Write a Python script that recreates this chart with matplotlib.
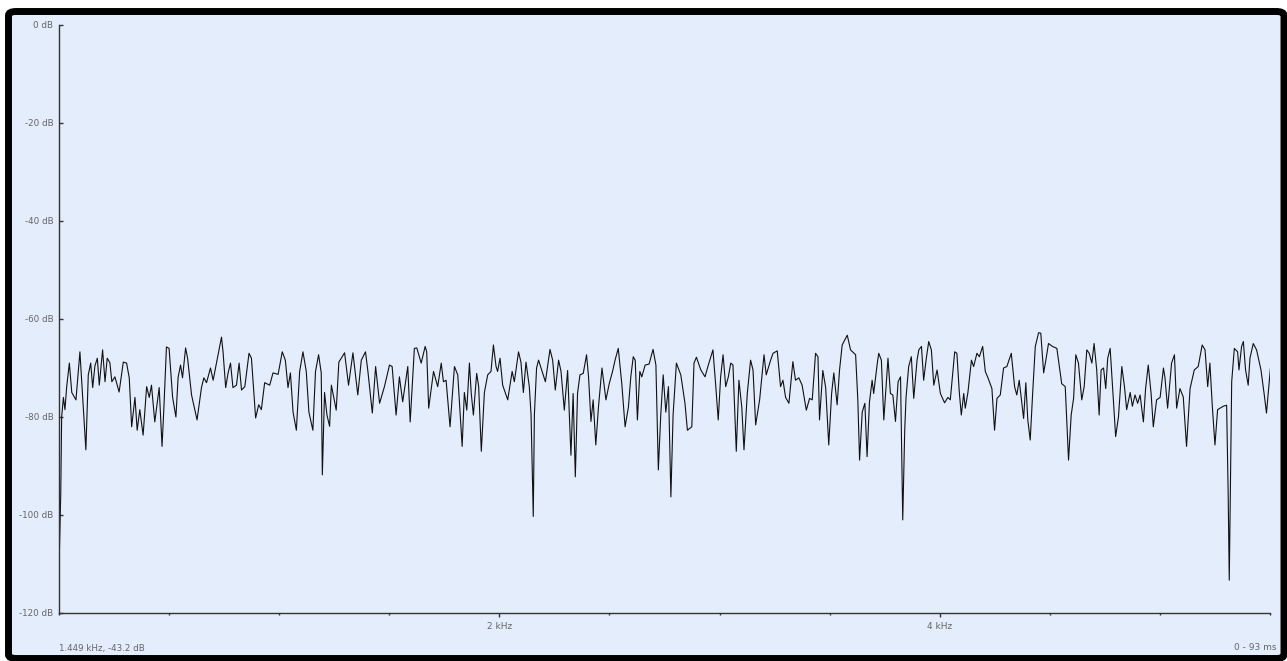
import numpy as np
import matplotlib
matplotlib.use("Agg")
import matplotlib.pyplot as plt
from matplotlib.patches import FancyBboxPatch
from matplotlib.ticker import FixedLocator, MultipleLocator, FuncFormatter

# spectrum: frequency (Hz) and level (dB)
freq_hz = [
    0, 8, 12, 20, 27, 35, 47, 58, 77, 95,
    110, 122, 133, 144, 153, 163, 174, 183, 198, 209,
    219, 231, 240, 254, 273, 292, 307, 319, 330, 345,
    355, 367, 382, 398, 410, 420, 435, 455, 468, 476,
    488, 500, 516, 531, 541, 552, 561, 575, 584, 602,
    627, 647, 658, 670, 688, 700, 715, 738, 745, 757,
    768, 779, 790, 806, 818, 829, 844, 863, 874, 893,
    907, 919, 934, 957, 972, 995, 1014, 1028, 1040, 1051,
    1063, 1078, 1093, 1108, 1123, 1135, 1153, 1165, 1179, 1191,
    1196, 1206, 1217, 1229, 1237, 1259, 1271, 1297, 1315, 1335,
    1357, 1373, 1392, 1403, 1423, 1438, 1456, 1478, 1501, 1513,
    1531, 1546, 1561, 1584, 1595, 1614, 1625, 1645, 1663, 1670,
    1679, 1701, 1720, 1736, 1746, 1758, 1776, 1796, 1811, 1831,
    1841, 1852, 1864, 1872, 1882, 1897, 1906, 1918, 1932, 1947,
    1962, 1973, 1985, 1992, 2003, 2015, 2038, 2058, 2068, 2087,
    2098, 2109, 2121, 2136, 2144, 2154, 2159, 2169, 2178, 2209,
    2230, 2242, 2254, 2269, 2280, 2295, 2310, 2325, 2335, 2345,
    2355, 2366, 2381, 2396, 2405, 2416, 2426, 2438, 2450, 2466,
    2484, 2499, 2514, 2526, 2540, 2556, 2571, 2586, 2597, 2608,
    2617, 2627, 2638, 2647, 2662, 2680, 2698, 2711, 2722, 2733,
    2744, 2756, 2768, 2779, 2789, 2804, 2824, 2843, 2854, 2874,
    2884, 2895, 2915, 2934, 2949, 2970, 2983, 2994, 3005, 3016,
    3028, 3040, 3051, 3061, 3076, 3088, 3101, 3111, 3126, 3141,
    3152, 3164, 3182, 3202, 3212, 3232, 3243, 3262, 3277, 3288,
    3300, 3315, 3333, 3345, 3360, 3375, 3394, 3409, 3421, 3436,
    3447, 3454, 3469, 3482, 3496, 3509, 3519, 3534, 3545, 3557,
    3580, 3595, 3618, 3628, 3636, 3648, 3660, 3670, 3681, 3693,
    3700, 3716, 3723, 3735, 3746, 3765, 3776, 3787, 3799, 3811,
    3822, 3832, 3841, 3847, 3859, 3871, 3882, 3897, 3905, 3917,
    3927, 3938, 3950, 3962, 3973, 3988, 4003, 4022, 4037, 4048,
    4068, 4078, 4089, 4098, 4109, 4116, 4128, 4144, 4154, 4169,
    4180, 4195, 4207, 4219, 4237, 4249, 4260, 4275, 4290, 4305,
    4325, 4340, 4350, 4361, 4381, 4391, 4400, 4411, 4422, 4434,
    4449, 4459, 4472, 4482, 4494, 4512, 4532, 4554, 4570, 4585,
    4597, 4608, 4618, 4630, 4645, 4656, 4668, 4679, 4691, 4701,
    4713, 4724, 4733, 4744, 4754, 4763, 4774, 4784, 4799, 4812,
    4827, 4839, 4849, 4865, 4875, 4887, 4899, 4910, 4925, 4935,
    4947, 4960, 4970, 4985, 5001, 5016, 5023, 5035, 5053, 5066,
    5076, 5091, 5106, 5121, 5137, 5156, 5174, 5192, 5205, 5217,
    5227, 5238, 5250, 5262, 5288, 5303, 5310, 5315, 5320, 5326,
    5338, 5353, 5359, 5371, 5379, 5389, 5401, 5409, 5424, 5439,
    5459, 5474, 5484, 5492, 5502,
]

level_db = [
    -111, -95.5, -80, -76, -78.5, -73.8, -69, -75, -76.5, -66.7,
    -78, -86.7, -71.4, -69, -74, -69.6, -68, -73.5, -66.3, -72.8,
    -68, -68.9, -72.8, -71.8, -74.9, -68.8, -69, -72, -82, -76,
    -82.7, -78.5, -83.7, -73.8, -76, -73.5, -81, -74, -86, -78.5,
    -65.7, -66, -76, -80, -71.9, -69.4, -72, -65.9, -68, -75.5,
    -80.6, -74, -72, -73, -70, -72.5, -69, -63.7, -66.7, -74,
    -71, -69, -74, -73.5, -69, -74.5, -73.8, -67, -68, -80.2,
    -77.5, -78.5, -73, -73.5, -71, -71.3, -66.7, -68.4, -74, -71,
    -79, -82.7, -70.7, -66.7, -70.7, -79, -82.7, -70.7, -67.3, -71,
    -91.8, -75, -79.6, -81.9, -73.5, -78.6, -68.8, -66.9, -73.5, -66.9,
    -75.5, -68.4, -66.7, -70.7, -79.2, -69.7, -77.2, -73.8, -69.4, -69.7,
    -79.6, -71.8, -76.9, -69.7, -81, -66, -65.9, -69, -65.6, -66.7,
    -78.2, -70.7, -73.8, -69, -72.8, -72.5, -82, -69.7, -71.4, -86,
    -75, -78.6, -69, -75, -79.6, -71.1, -73.8, -87, -75, -71.4,
    -70.7, -65.3, -69.7, -70.7, -68, -73.5, -76.5, -70.7, -72.8, -66.7,
    -68.8, -75, -68.8, -73.8, -79.6, -100.3, -79.6, -70, -68.4, -72.8,
    -66.2, -68.4, -74.5, -68.4, -70.7, -78.6, -70.5, -87.8, -75.2, -92.2,
    -75.2, -71.4, -71.1, -67.3, -71.8, -80.9, -76.5, -85.7, -78, -70,
    -76.5, -73.2, -70.7, -68.3, -66, -73.2, -82, -78, -71.8, -67.7,
    -68.4, -80.6, -70.7, -71.8, -69.4, -69.2, -66.2, -69.4, -90.8, -79.6,
    -71.4, -79, -73.8, -96.3, -79.6, -69, -71.4, -77.2, -82.7, -82,
    -69, -67.8, -70.4, -71.8, -69.4, -66.3, -73.8, -80.6, -71.8, -67.3,
    -73.8, -71.8, -69, -69.4, -87, -72.5, -78, -86.7, -75.2, -68.4,
    -70.4, -81.6, -76.5, -67.3, -71.4, -68.4, -67, -66.5, -73.8, -72.5,
    -76, -77.2, -68.7, -72.5, -72, -73.5, -78.6, -76.2, -76.5, -67,
    -67.7, -80.6, -70.5, -74, -85.7, -75.2, -71, -77.5, -70.4, -65.3,
    -63.3, -66.3, -67.3, -76.5, -88.8, -79, -77.2, -88.1, -76.9, -72.5,
    -75.2, -69.2, -67, -68.4, -80.6, -68, -75.2, -75.5, -80.9, -72.8,
    -71.8, -101, -82.7, -76, -69.7, -67.7, -76.2, -68.4, -66.3, -65.6,
    -72.5, -68.4, -64.6, -66.3, -73.5, -70.4, -75.2, -77.1, -76, -76.5,
    -66.7, -67, -75, -79.6, -75.2, -78.2, -75, -68.4, -69.7, -67,
    -67.7, -65.6, -70.7, -72, -74.2, -82.7, -76.2, -75.5, -70, -69.7,
    -67, -73.8, -75.5, -72.5, -80.3, -73, -80.6, -84.7, -75.2, -65.6,
    -62.8, -62.9, -71, -68.4, -65, -65.6, -66, -73.2, -73.8, -88.8,
    -79.6, -76.2, -67.3, -69, -76.5, -73.8, -66.3, -67, -69, -65,
    -70.4, -79.6, -70.4, -70, -74.2, -68, -66, -73.2, -84, -79.9,
    -69.7, -73.8, -78.5, -75, -77.8, -75.5, -77.2, -75.5, -81, -74.2,
    -69.4, -75.2, -82, -76.5, -76, -70, -72, -78.2, -69, -67.3,
    -78.2, -74.2, -75.9, -86, -74.2, -70.4, -69.7, -65.3, -66.3, -73.8,
    -69, -77.8, -85.7, -78.5, -77.8, -77.6, -95.6, -113.3, -95.6, -72.8,
    -66, -66.7, -70.4, -65.6, -64.6, -70.4, -73.5, -68, -65, -66.3,
    -70.4, -75.5, -79.2, -75.2, -70,
]

db_ticks = [0, -20, -40, -60, -80, -100, -120]
khz_ticks = [2000, 4000]
cursor_text = "1.449 kHz, -43.2 dB"
window_text = "0 - 93 ms"

W, H = 1287, 661
bg = "#e3edfc"
label_col = "#666666"

fig = plt.figure(figsize=(W / 100, H / 100), dpi=100)
fig.patch.set_facecolor("white")

# black rounded frame round the whole panel, kept behind the axes
frame = FancyBboxPatch((8.5 / W, 2.5 / H), (1284 - 8.5) / W, (649.5 - 2.5) / H,
                       boxstyle="round,pad=0,rounding_size=0.006",
                       transform=fig.transFigure, facecolor=bg,
                       edgecolor="black", linewidth=5.0, zorder=-10)
fig.patches.append(frame)

ax = fig.add_axes([59 / W, (H - 613) / H, (1270 - 59) / W, 588 / H])
ax.set_zorder(5)
ax.set_facecolor("none")
ax.plot(freq_hz, level_db, color="#111111", linewidth=0.8)

ax.set_xlim(0, 5500)
ax.set_ylim(-120, 0)

for side in ("top", "right"):
    ax.spines[side].set_visible(False)
for side in ("left", "bottom"):
    ax.spines[side].set_color("#333333")
    ax.spines[side].set_linewidth(1.0)

ax.yaxis.set_major_locator(FixedLocator(db_ticks))
ax.yaxis.set_major_formatter(FuncFormatter(lambda v, p: f"{int(v)} dB"))
ax.xaxis.set_major_locator(FixedLocator(khz_ticks))
ax.xaxis.set_major_formatter(FuncFormatter(lambda v, p: f"{int(v / 1000)} kHz"))
ax.xaxis.set_minor_locator(MultipleLocator(500))

ax.tick_params(axis="y", direction="in", length=3, width=1, color="#333333",
               labelsize=6.3, labelcolor=label_col, pad=4)
ax.tick_params(axis="x", which="major", direction="out", length=3.2, width=1,
               color="#333333", labelsize=6.5, labelcolor=label_col, pad=3)
ax.tick_params(axis="x", which="minor", direction="out", length=1.6, width=1,
               color="#333333")

fig.text(59 / W, (H - 648) / H, cursor_text, fontsize=6.3, color=label_col,
         ha="left", va="center", zorder=6)
fig.text(1277 / W, (H - 648) / H, window_text, fontsize=6.5, color=label_col,
         ha="right", va="center", zorder=6)

fig.savefig("out.png", dpi=100, facecolor=fig.get_facecolor())
